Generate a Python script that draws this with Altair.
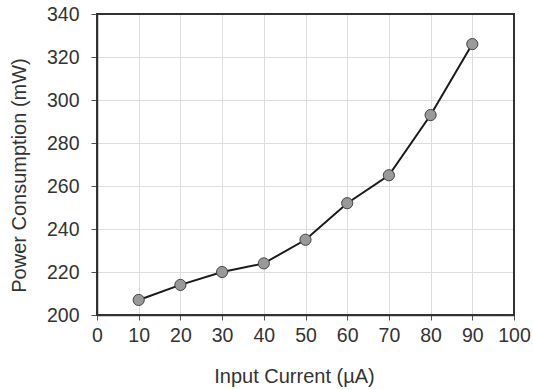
import altair as alt
import pandas as pd

current_ua = [10, 20, 30, 40, 50, 60, 70, 80, 90]
power_mw = [207, 214, 220, 224, 235, 252, 265, 293, 326]
x_ticks = [0, 10, 20, 30, 40, 50, 60, 70, 80, 90, 100]
y_ticks = [200, 220, 240, 260, 280, 300, 320, 340]

df = pd.DataFrame({"current": current_ua, "power": power_mw})

FONT = "Liberation Sans"
TXT = "#333333"
W, H = 417, 301

x_enc = alt.X(
    "current:Q",
    scale=alt.Scale(domain=[0, 100], nice=False, zero=False),
    axis=alt.Axis(
        title="Input Current (µA)",
        values=x_ticks,
        labelFlush=False,
        labelOverlap=False,
        labelFontSize=19.5,
        labelPadding=6,
        tickSize=5,
        titleFontSize=20,
        titleFontWeight="normal",
        titleX=197,
        titleY=67,
        titleBaseline="alphabetic",
        titleAnchor="middle",
    ),
)
y_enc = alt.Y(
    "power:Q",
    scale=alt.Scale(domain=[200, 340], nice=False, zero=False),
    axis=alt.Axis(
        title="Power Consumption (mW)",
        values=y_ticks,
        labelOverlap=False,
        labelFontSize=19.5,
        labelPadding=12,
        tickSize=6,
        titleFontSize=20,
        titleFontWeight="normal",
        titleX=-72,
        titleY=161,
        titleBaseline="alphabetic",
        titleAngle=-90,
    ),
)

base = alt.Chart(df).encode(x=x_enc, y=y_enc)
line = base.mark_line(color="#1a1a1a", strokeWidth=2)
pts = base.mark_point(
    filled=True, shape="circle", size=125, fill="#999999", stroke="#444444",
    strokeWidth=1, opacity=1,
)
frame = alt.Chart(df).mark_rect(
    fill=None, fillOpacity=0, stroke="#333333", strokeWidth=1.5
).encode(
    x=alt.value(0), x2=alt.value(W), y=alt.value(0), y2=alt.value(H)
)

chart = (
    alt.layer(line, pts, frame)
    .properties(
        width=W,
        height=H,
        autosize=alt.AutoSizeParams(type="none"),
        padding={"left": 97, "top": 14, "right": 19, "bottom": 75},
        background="white",
    )
    .configure_view(stroke=None)
    .configure_axis(
        labelFont=FONT,
        titleFont=FONT,
        labelColor=TXT,
        titleColor=TXT,
        domainColor="#333333",
        domainWidth=1.5,
        tickColor="#555555",
        gridColor="#dddddd",
        gridWidth=1,
    )
)

chart.save("out.html", embed_options={"renderer": "svg", "actions": False})
